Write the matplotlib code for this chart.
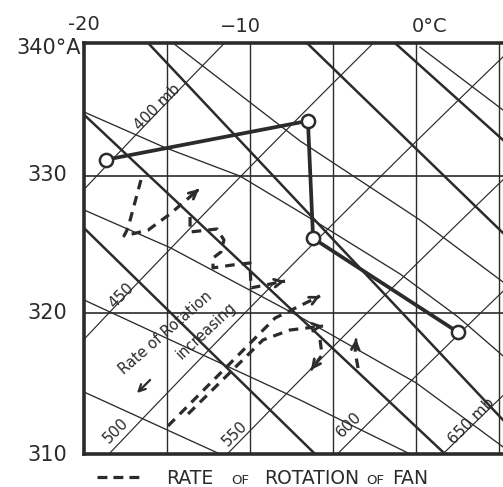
import numpy as np
import matplotlib
matplotlib.use("Agg")
import matplotlib.pyplot as plt

# ---------------- data ----------------
# temperature in deg C, potential temperature in K
obs_T = [-18.67, -6.51, -6.20, 2.53]
obs_theta = [331.2, 334.1, 325.4, 318.6]

isotherms = [-15, -10, -5, 0, 5]
isentropes = [320, 330]
isobars = [400, 450, 500, 550, 600, 650]
# small offsets (deg C) by which the printed isobars sit to the right of theory
isobar_shift = [0.0, 0.0, 0.4, 0.5, 0.55, 0.7]
isobar_labels = ["400 mb", "450", "500", "550", "600", "650 mb"]
isobar_label_T = [-15.60, -17.77, -18.07, -10.90, -4.04, 3.37]
isobar_label_theta = [335.14, 321.20, 311.61, 311.40, 312.03, 312.31]

# thick sloping lines: (T1, theta1, T2, theta2)
thick_lines = [
    (-20.0, 334.57, 1.75, 310.0),
    (-16.14, 340.0, 5.24, 312.38),
    (-6.57, 340.0, 5.24, 325.79),
    (-1.27, 340.0, 5.24, 332.67),
    (-20.0, 326.15, -6.08, 310.0),
]
# thin sloping (saturated adiabat) lines: lists of (T, theta)
thin_lines = [
    [(-20.0, 334.77), (-15.12, 332.10), (-10.60, 329.98), (-6.20, 326.74),
     (-0.96, 322.80), (2.53, 319.70), (5.24, 316.91)],
    [(-20.0, 327.48), (-14.82, 324.72), (-6.99, 319.70), (0.0, 315.0), (5.24, 310.5)],
    [(-20.0, 320.92), (-6.99, 313.79), (-0.36, 310.0)],
    [(-20.0, 314.35), (-11.81, 310.0)],
    [(-14.64, 340.0), (-6.99, 332.6), (0.24, 326.74), (5.24, 322.22)],
    [(0.24, 339.69), (5.24, 334.92)],
]

# dashed "rate of rotation of fan" tracks: (T list, theta list)
fan_tracks = [
    ([-16.57, -17.35, -17.59, -16.14, -14.82, -13.07],
     [329.69, 326.15, 325.57, 326.00, 327.18, 329.02]),
    ([-13.61, -13.61, -11.99, -11.57, -11.75, -12.23, -12.23, -11.08, -10.00, -9.94, -7.89],
     [326.96, 325.86, 326.08, 325.28, 324.40, 323.96, 323.24, 323.45, 323.60, 321.79, 322.29]),
    ([-14.94, -8.49, -5.78], [311.96, 319.62, 321.21]),
    ([-13.73, -9.22, -7.59, -5.60], [312.80, 318.05, 318.76, 319.05]),
    ([-5.78, -5.66, -6.33], [318.05, 316.97, 315.91]),
    ([-3.49, -3.67, -3.61], [316.05, 317.19, 318.12]),
]

ink = "#2b2b2b"
W, H = 503, 487
fig = plt.figure(figsize=(W / 100, H / 100), dpi=100)
fig.patch.set_facecolor("white")
ax = fig.add_axes([84 / W, 1 - 454 / H, (503 - 84) / W, (454 - 43) / H])
ax.set_yscale("log")
ax.set_xlim(-20, 5.24)
ax.set_ylim(310, 340)
ax.set_xticks([])
ax.set_yticks([])
ax.set_yticks([], minor=True)
ax.set_xticks([], minor=True)
for s in ["left", "top", "bottom"]:
    ax.spines[s].set_linewidth(2.6)
    ax.spines[s].set_color(ink)
ax.spines["right"].set_visible(False)

for t in isotherms:
    ax.axvline(t, color=ink, lw=1.0)
for th in isentropes:
    ax.axhline(th, color=ink, lw=1.2)

Tg = np.linspace(-25, 10, 300)
for p, dT in zip(isobars, isobar_shift):
    ax.plot(Tg, (Tg - dT + 273.15) * (1000.0 / p) ** 0.286, color=ink, lw=0.85)

for (t1, h1, t2, h2) in thick_lines:
    ax.plot([t1, t2], [h1, h2], color=ink, lw=1.8)
for ln in thin_lines:
    ax.plot([a for a, b in ln], [b for a, b in ln], color=ink, lw=0.95)

for lab, lt, lh in zip(isobar_labels, isobar_label_T, isobar_label_theta):
    ax.text(lt, lh, lab, rotation=45, ha="center", va="center", fontsize=11,
            color=ink, rotation_mode="anchor")

ax.text(-15.06, 318.55, "Rate of Rotation", rotation=41, ha="center", va="center",
        fontsize=10.5, color=ink, rotation_mode="anchor")
ax.text(-12.65, 318.69, "increasing", rotation=43, ha="center", va="center",
        fontsize=10.5, color=ink, rotation_mode="anchor")
ax.annotate("", xy=(-16.93, 314.14), xytext=(-15.90, 315.34),
            arrowprops=dict(arrowstyle="->", color=ink, lw=1.6,
                            mutation_scale=12))

for tt, hh in fan_tracks:
    ax.plot(tt, hh, color=ink, lw=2.3, ls=(0, (3.0, 2.2)), solid_capstyle="butt")
    t_end, h_end = tt[-1], hh[-1]
    t_b = t_end - 0.05 * (t_end - tt[-2])
    h_b = h_end * (hh[-2] / h_end) ** 0.05
    ax.annotate("", xy=(t_end, h_end), xytext=(t_b, h_b),
                arrowprops=dict(arrowstyle="->", color=ink, lw=2.0,
                                mutation_scale=14, shrinkA=0, shrinkB=0))

ax.plot(obs_T, obs_theta, color=ink, lw=2.7, marker="o", ms=9.5,
        mfc="white", mec=ink, mew=1.8, zorder=5)

# axis labels
fs = 15
fig.text(67 / W, 1 - 175 / H, "330", ha="right", va="center", fontsize=fs, color=ink)
fig.text(67 / W, 1 - 313 / H, "320", ha="right", va="center", fontsize=fs, color=ink)
fig.text(67 / W, 1 - 455 / H, "310", ha="right", va="center", fontsize=fs, color=ink)
fig.text(81 / W, 1 - 48 / H, "340°A", ha="right", va="center", fontsize=fs, color=ink)
fig.text(84 / W, 1 - 25 / H, "-20", ha="center", va="center", fontsize=14, color=ink)
fig.text(240 / W, 1 - 27 / H, "−10", ha="center", va="center", fontsize=14, color=ink)
fig.text(430 / W, 1 - 27 / H, "0°C", ha="center", va="center", fontsize=14, color=ink)

# legend line at the bottom
yl = 1 - 477 / H
fig.add_artist(plt.Line2D([97 / W, 139 / W], [yl, yl], color=ink, lw=2.3,
                          ls=(0, (3.1, 1.9)), transform=fig.transFigure))
yb = 1 - 484 / H
parts = [("RATE", 166, 13.5), ("OF", 231, 9.5), ("ROTATION", 264, 13.5),
         ("OF", 366, 9.5), ("FAN", 392, 13.5)]
for txt, px, f in parts:
    fig.text(px / W, yb, txt, ha="left", va="baseline", fontsize=f, color=ink)

fig.savefig("out.png", dpi=100, facecolor="white")
